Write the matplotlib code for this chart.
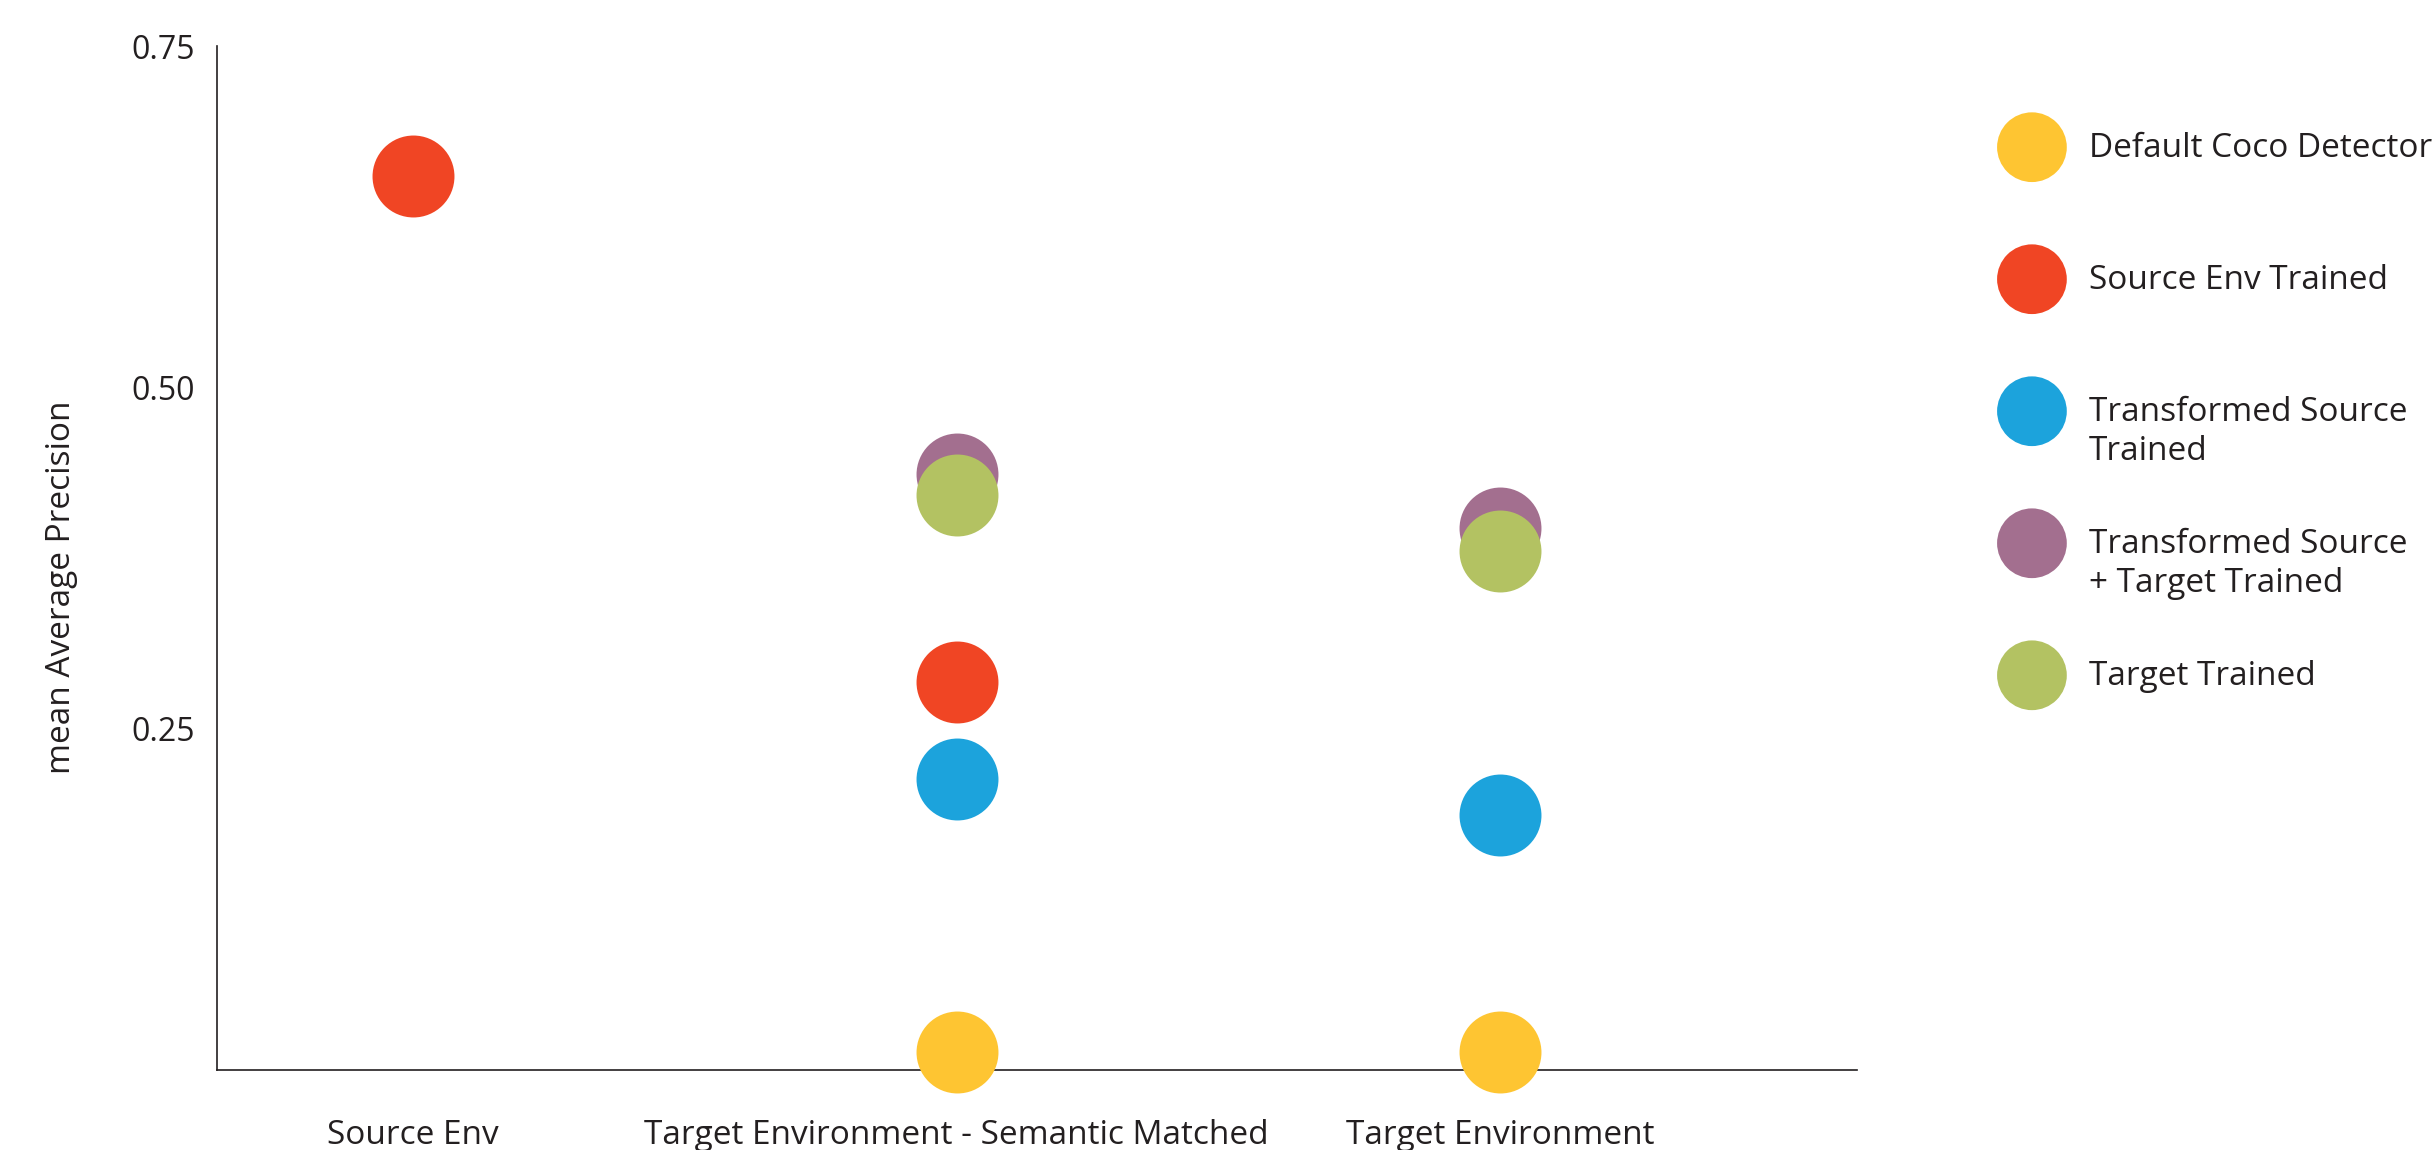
import numpy as np
import matplotlib
matplotlib.use('Agg')
import matplotlib.pyplot as plt

plt.rcParams['font.family'] = ['Open Sans', 'DejaVu Sans']

# Data
categories = ['Source Env', 'Target Environment - Semantic Matched', 'Target Environment']
series_names = ['Default Coco Detector', 'Source Env Trained', 'Transformed Source\nTrained',
                'Transformed Source\n+ Target Trained', 'Target Trained']
default_coco = [np.nan, 0.013, 0.013]
source_trained = [0.655, 0.284, np.nan]
transformed_source = [np.nan, 0.213, 0.187]
transformed_target = [np.nan, 0.437, 0.397]
target_trained = [np.nan, 0.421, 0.380]

colors = ['#FEC532', '#F04524', '#1CA3DC', '#A36F8F', '#B3C262']
text_color = '#231F20'

all_series = [default_coco, source_trained, transformed_source, transformed_target, target_trained]

fig = plt.figure(figsize=(24.32, 11.5), dpi=100)
ax = fig.add_axes([0.0892, 0.0696, 0.6744, 0.89])

x = np.arange(len(categories))
for vals, c in zip(all_series, colors):
    ax.scatter(x, vals, s=3480, color=c, linewidths=0, clip_on=False, zorder=3)

ax.set_xlim(-0.361, 2.657)
ax.set_ylim(0, 0.75)
ax.set_xticks(x)
ax.set_xticklabels(categories, fontsize=24, color=text_color)
ax.set_yticks([0.25, 0.50, 0.75])
ax.set_yticklabels(['0.25', '0.50', '0.75'], fontsize=23, color=text_color)
ax.tick_params(axis='x', length=0, pad=35)
ax.tick_params(axis='y', length=0, pad=16)
ax.set_ylabel('mean Average Precision', fontsize=24, color=text_color)
ax.yaxis.set_label_coords(-0.085, 0.472)

for side in ['top', 'right']:
    ax.spines[side].set_visible(False)
for side in ['left', 'bottom']:
    ax.spines[side].set_color(text_color)
    ax.spines[side].set_linewidth(1.2)

# Legend drawn by hand so rows are evenly spaced
lax = fig.add_axes([0, 0, 1, 1], facecolor='none')
lax.set_xlim(0, 1)
lax.set_ylim(0, 1)
lax.axis('off')
row_y = 0.872 - 0.1148 * np.arange(len(series_names))
lax.scatter([0.8355] * len(series_names), row_y, s=2520, color=colors, linewidths=0)
for name, y in zip(series_names, row_y):
    for i, line in enumerate(name.split('\n')):
        lax.text(0.859, y - 0.001 - i * 0.034, line, fontsize=24, color=text_color,
                 va='center', ha='left')

fig.savefig('out.png', dpi=100)
